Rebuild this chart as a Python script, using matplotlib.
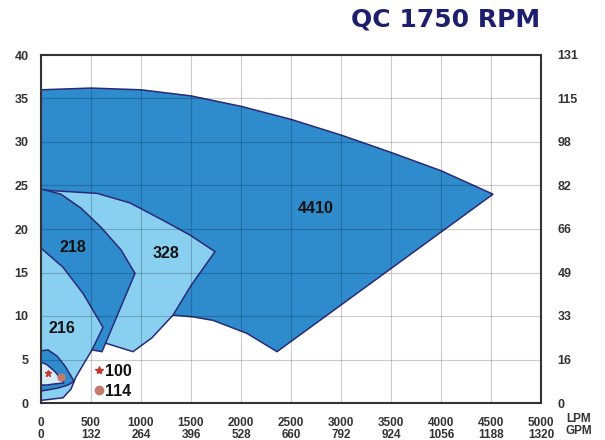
import matplotlib.pyplot as plt
from matplotlib.patches import Polygon

# curve outlines (LPM, metres)
x_4410 = [0, 500, 1000, 1500, 2000, 2500, 3000, 3500, 4000, 4520,
          2360, 2060, 1720, 1520, 1320, 1100, 800, 500, 0]
y_4410 = [36.0, 36.2, 36.0, 35.3, 34.1, 32.6, 30.8, 28.8, 26.7, 24.0,
          5.9, 8.0, 9.5, 9.9, 10.1, 9.6, 9.0, 9.0, 9.0]

x_328 = [0, 120, 560, 890, 1220, 1490, 1740, 1500, 1320, 1110, 920, 640, 450, 0]
y_328 = [24.5, 24.4, 24.1, 23.0, 21.0, 19.3, 17.4, 13.5, 10.1, 7.5, 5.9, 6.9, 11.0, 14.0]

x_218 = [0, 200, 400, 600, 800, 940, 610, 510, 300, 0]
y_218 = [24.6, 24.0, 22.4, 20.2, 17.6, 14.9, 5.9, 6.1, 10.0, 12.0]

x_216 = [0, 220, 420, 620, 510, 350, 300, 220, 0]
y_216 = [17.8, 15.6, 12.6, 8.7, 6.1, 3.0, 1.6, 0.6, 0.3]

x_114 = [0, 70, 160, 240, 300, 330, 270, 170, 60, 0]
y_114 = [6.0, 6.1, 5.4, 4.25, 3.1, 2.5, 2.07, 1.72, 1.49, 1.38]

x_100 = [0, 60, 140, 210, 230, 140, 60, 0]
y_100 = [4.7, 4.4, 3.6, 2.64, 2.3, 2.2, 2.07, 2.07]

curve_labels = ["4410", "328", "218", "216"]
label_x = [2750, 1250, 320, 210]
label_y = [22.4, 17.2, 17.9, 8.6]

lpm_ticks = [0, 500, 1000, 1500, 2000, 2500, 3000, 3500, 4000, 4500, 5000]
gpm_labels = ["0", "132", "264", "396", "528", "660", "792", "924", "1056", "1188", "1320"]
m_ticks = [0, 5, 10, 15, 20, 25, 30, 35, 40]
ft_labels = ["0", "16", "33", "49", "66", "82", "98", "115", "131"]

dark = "#2E8BCC"
light = "#88CFF0"
pale = "#D6EDF8"
edge = "#2A2A78"
tick_col = '#333333'

plt.rcParams['font.family'] = ['Liberation Sans', 'DejaVu Sans']
plt.rcParams['font.weight'] = 'bold'

fig = plt.figure(figsize=(6.05, 4.4), dpi=100)
ax = fig.add_axes([41 / 605, 37 / 440, 500 / 605, 348 / 440])

shapes = [(x_4410, y_4410, dark), (x_328, y_328, light), (x_218, y_218, dark),
          (x_216, y_216, light), (x_114, y_114, dark), (x_100, y_100, pale)]
for xs, ys, col in shapes:
    ax.add_patch(Polygon(list(zip(xs, ys)), closed=True, facecolor=col,
                         edgecolor=edge, linewidth=1.1, zorder=2))

for t, lx, ly in zip(curve_labels, label_x, label_y):
    ax.text(lx, ly, t, fontsize=11.5, fontweight='bold', ha='center', va='center',
            color='#111111', zorder=5)

# small markers for the 100 / 114 curves
ax.plot([70], [3.4], marker='*', color='#C0392B', markersize=5, zorder=6)
ax.plot([200], [3.0], marker='o', color='#C47A6A', markersize=5, zorder=6)
ax.plot([580], [3.8], marker='*', color='#C0392B', markersize=6, zorder=6)
ax.plot([580], [1.5], marker='o', color='#C47A6A', markersize=6, zorder=6)
ax.text(640, 3.6, "100", fontsize=11.5, fontweight='bold', va='center', color='#111111')
ax.text(640, 1.3, "114", fontsize=11.5, fontweight='bold', va='center', color='#111111')

ax.set_xlim(0, 5000)
ax.set_ylim(0, 40)
ax.set_xticks(lpm_ticks)
ax.set_xticklabels([f"{a}\n{b}" for a, b in zip(lpm_ticks, gpm_labels)],
                   fontsize=8.5, fontweight='bold', color=tick_col, linespacing=1.05)
ax.set_yticks(m_ticks)
ax.set_yticklabels([str(v) for v in m_ticks], fontsize=9, fontweight='bold', color=tick_col)
ax.tick_params(axis='x', length=0, pad=10)
ax.tick_params(axis='y', length=0, pad=9)
ax.grid(True, color='black', alpha=0.2, linewidth=0.8, zorder=3)
ax.set_axisbelow(False)
for s in ax.spines.values():
    s.set_linewidth(1.5)
    s.set_color(tick_col)
    s.set_zorder(7)

ax2 = ax.twinx()
ax2.set_ylim(0, 40)
ax2.set_yticks(m_ticks)
ax2.set_yticklabels(ft_labels, fontsize=9, fontweight='bold', color=tick_col)
ax2.tick_params(axis='y', length=0, pad=12)
for s in ax2.spines.values():
    s.set_visible(False)

fig.text(566 / 605, 1 - 419 / 440, "LPM", fontsize=8.5, fontweight='bold', color=tick_col,
         ha='left', va='center')
fig.text(566 / 605, 1 - 431 / 440, "GPM", fontsize=8.5, fontweight='bold', color=tick_col,
         ha='left', va='center')
fig.text(446 / 605, 1 - 19 / 440, "QC 1750 RPM", fontsize=18, fontweight='bold',
         family='DejaVu Sans', color='#1E1E6E', ha='center', va='center')

fig.savefig("out.png", dpi=100)
